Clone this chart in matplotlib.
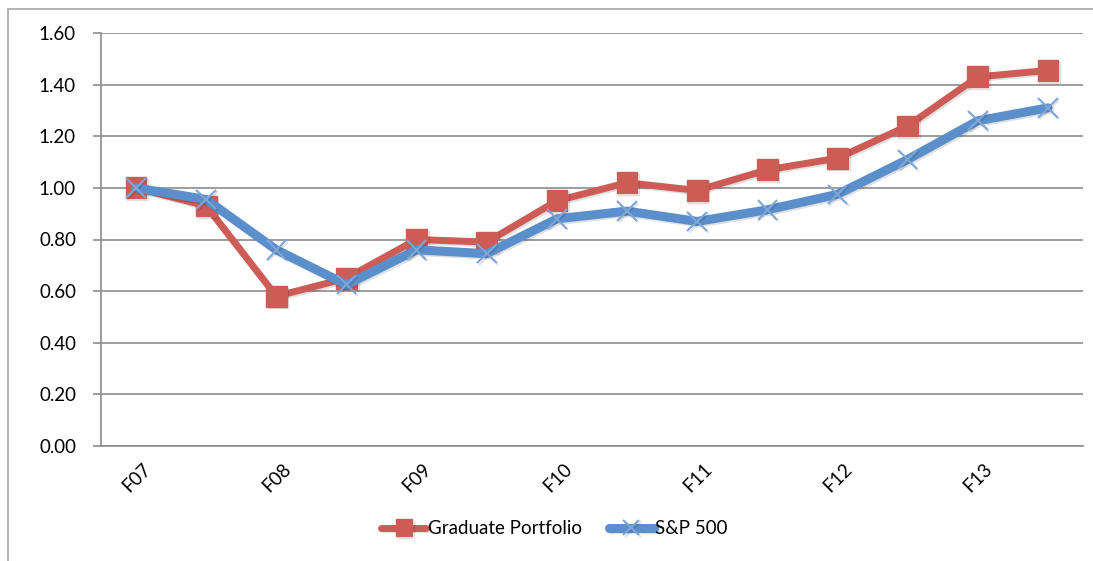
import matplotlib
matplotlib.use('Agg')
import matplotlib.pyplot as plt
import matplotlib.patheffects as pe
import matplotlib.transforms as mtrans
from matplotlib.patches import Rectangle

# data
periods = ['F07', '', 'F08', '', 'F09', '', 'F10', '', 'F11', '', 'F12', '', 'F13', '']
graduate = [1.00, 0.93, 0.58, 0.65, 0.80, 0.79, 0.95, 1.02, 0.99, 1.07, 1.115, 1.24, 1.43, 1.455]
sp500 = [1.00, 0.955, 0.76, 0.625, 0.76, 0.745, 0.88, 0.91, 0.87, 0.915, 0.975, 1.11, 1.26, 1.31]
yticks = [0.0, 0.2, 0.4, 0.6, 0.8, 1.0, 1.2, 1.4, 1.6]

red = '#CD5B56'
blue = '#5B8FCB'

plt.rcParams['font.family'] = ['Lato', 'DejaVu Sans']

fig = plt.figure(figsize=(10.93, 5.61), dpi=100)
# outer chart frame (clipped at right and bottom like the screenshot)
fig.patches.append(Rectangle((8 / 1093, -0.1), 1.2, 1 - 9 / 561 + 0.1, transform=fig.transFigure,
                             fill=False, edgecolor='#A6A6A6', linewidth=1.2))
ax = fig.add_axes([101 / 1093, 1 - 446 / 561, 982 / 1093, 413 / 561])

x = list(range(len(periods)))
shadow = [pe.SimpleLineShadow(offset=(1.2, -1.2), alpha=0.12), pe.Normal()]
ax.plot(x, graduate, color=red, linewidth=5, marker='s', markersize=15,
        markerfacecolor=red, markeredgecolor=red, label='Graduate Portfolio',
        solid_capstyle='round', path_effects=shadow)
ax.plot(x, sp500, color=blue, linewidth=6.5, marker='x', markersize=14,
        markeredgecolor='#7DA7D9', markeredgewidth=1.5, label='S&P 500',
        solid_capstyle='round', path_effects=shadow)

ax.set_xlim(-0.5, len(periods) - 0.5)
ax.set_ylim(0, 1.6)
ax.set_yticks(yticks)
ax.set_yticklabels([f'{v:.2f}' for v in yticks], fontsize=13.5)
ax.yaxis.grid(True, color='#8C8C8C', linewidth=1.2)
ax.set_axisbelow(True)

ax.set_xticks(x)
ax.set_xticklabels(periods, rotation=45, ha='right', rotation_mode='anchor', fontsize=13.5)
ax.tick_params(axis='x', length=0, pad=10)
ax.tick_params(axis='y', length=6, color='#8C8C8C', width=1.2, pad=12)
# nudge the rotated labels a little to the right, like the original
offset = mtrans.ScaledTranslation(6 / 100, 0, fig.dpi_scale_trans)
for lbl in ax.get_xticklabels():
    lbl.set_transform(lbl.get_transform() + offset)

for s in ['top', 'right']:
    ax.spines[s].set_visible(False)
for s in ['left', 'bottom']:
    ax.spines[s].set_color('#8C8C8C')
    ax.spines[s].set_linewidth(1.2)

ax.legend(loc='center', bbox_to_anchor=(0.462, -0.2), ncol=2, frameon=False,
          fontsize=13.5, handlelength=2.4, handletextpad=0.1, columnspacing=1.4,
          markerscale=0.8)

fig.savefig('out.png', dpi=100)
